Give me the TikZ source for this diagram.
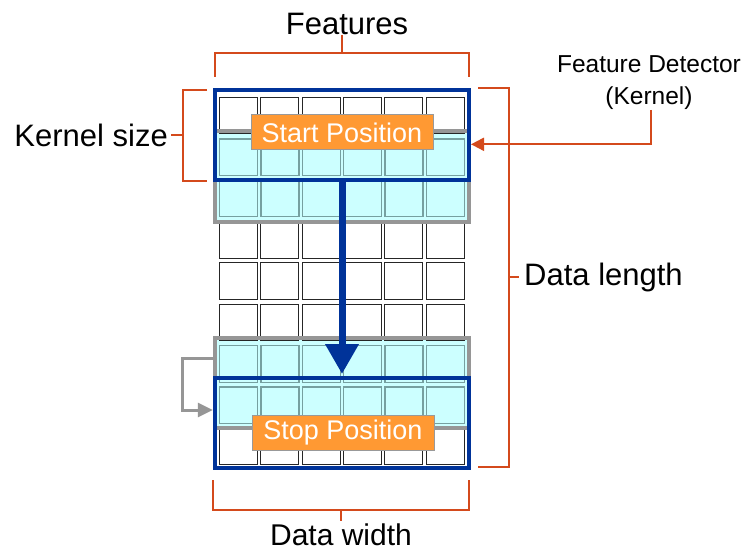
\documentclass[tikz,border=0pt]{standalone}
\usepackage{fontspec}
\setmainfont{Liberation Sans}
\usetikzlibrary{arrows.meta}
\definecolor{kblue}{RGB}{0,51,153}
\definecolor{korange}{RGB}{255,153,51}
\definecolor{bracketred}{RGB}{212,74,28}
\definecolor{lcyan}{RGB}{204,255,255}
\definecolor{cyanedge}{RGB}{118,160,160}
\definecolor{bandgray}{RGB}{150,150,150}
\tikzset{
  cellw/.style={draw=black!85, line width=1pt, fill=white, minimum width=38pt, minimum height=36.5pt, inner sep=0pt, anchor=north west},
  cellc/.style={draw=cyanedge, line width=1.3pt, fill=lcyan, minimum width=38pt, minimum height=36.5pt, inner sep=0pt, anchor=north west},
  band/.style={fill=lcyan, minimum width=254pt, minimum height=90.5pt, inner sep=0pt},
  bandedge/.style={draw=bandgray, line width=4pt},
  kernel/.style={draw=kblue, line width=4pt, minimum width=254pt, minimum height=90pt, inner sep=0pt},
  poslabel/.style={draw=black!40, line width=1pt, fill=korange, text=white, minimum width=182pt, minimum height=35pt, inner sep=0pt, font=\fontsize{27}{30}\selectfont},
  bracket/.style={draw=bracketred, line width=2pt},
  bigtext/.style={font=\fontsize{31}{36}\selectfont, inner sep=0pt},
}
\begin{document}
\begin{tikzpicture}[x=1pt,y=-1pt]
\useasboundingbox[fill=white] (0,0) rectangle (754,553);

% highlighted bands: next kernel position and the one before the last
\node[band] (band-top) at (342,176.3) {};
\node[band] (band-bot) at (342,383) {};

% data grid: 6 features x 9 samples
\foreach \j in {0,...,8} {
  \foreach \i in {0,...,5} {
    \pgfmathtruncatemacro\isc{(\j==1)||(\j==2)||(\j==6)||(\j==7)}
    \ifnum\isc=1 \def\cstyle{cellc}\else\def\cstyle{cellw}\fi
    \node[\cstyle] (c-\i-\j) at ({219+41.3*\i},{97+41.35*\j}) {};
  }
}

% band outlines sit on top of the cells
\draw[bandedge] (band-top.north west) rectangle (band-top.south east);
\draw[bandedge] (band-bot.north west) rectangle (band-bot.south east);

% kernel at its start and stop positions
\node[kernel] (kern-start) at (342,135.3) {};
\node[kernel] (kern-stop) at (342,423) {};

% sliding direction
\draw[kblue, line width=7pt, -{Triangle[width=32pt,length=30pt]}, shorten >=2pt]
  (kern-start.south) -- (kern-stop.north);

% step to the next row
\draw[bandgray, line width=3pt, -{Triangle[width=14pt,length=15pt]}]
  ([yshift=25pt,xshift=-2pt]band-bot.west) -- ++(-30,0) |- ([yshift=-27pt,xshift=-2pt]band-bot.west);

\node[poslabel] (start) at (342,132.5) {Start Position};
\node[poslabel] (stop) at (343,432.5) {Stop Position};

% dimension brackets
\node[bigtext, anchor=south] (features) at (347,35) {Features};
\draw[bracket] (215,77) -- (215,53) -- (469,53) -- (469,77);
\draw[bracket] (342,53) -- (features.south -| 342,0);

\node[bigtext, anchor=east, inner sep=3pt] (ksize) at (171,135.5) {Kernel size};
\draw[bracket] (207,90) -- (183,90) -- (183,181) -- (207,181);
\draw[bracket] (183,135.5) -- (ksize.east);

\node[bigtext, anchor=west, inner sep=5pt] (dlen) at (519,277) {Data length};
\draw[bracket] (478,88.5) -- (509,88.5) -- (509,466.5) -- (478,466.5);
\draw[bracket] (509,277) -- (dlen.west);

\node[bigtext, anchor=north, font=\fontsize{30}{36}\selectfont] (dwidth) at (341,523.5) {Data width};
\draw[bracket] (213,480) -- (213,510) -- (469,510) -- (469,480);
\draw[bracket] (341,510) -- (341,521);

% kernel callout
\node[anchor=south, align=center, inner sep=0pt, font=\fontsize{24.5}{32}\selectfont] (fd) at (649,110)
  {Feature Detector\\(Kernel)};
\draw[bracket, -{Triangle[width=13pt,length=13pt]}]
  ([xshift=2pt]fd.south) |- ([yshift=-9pt]kern-start.east);
\end{tikzpicture}
\end{document}
